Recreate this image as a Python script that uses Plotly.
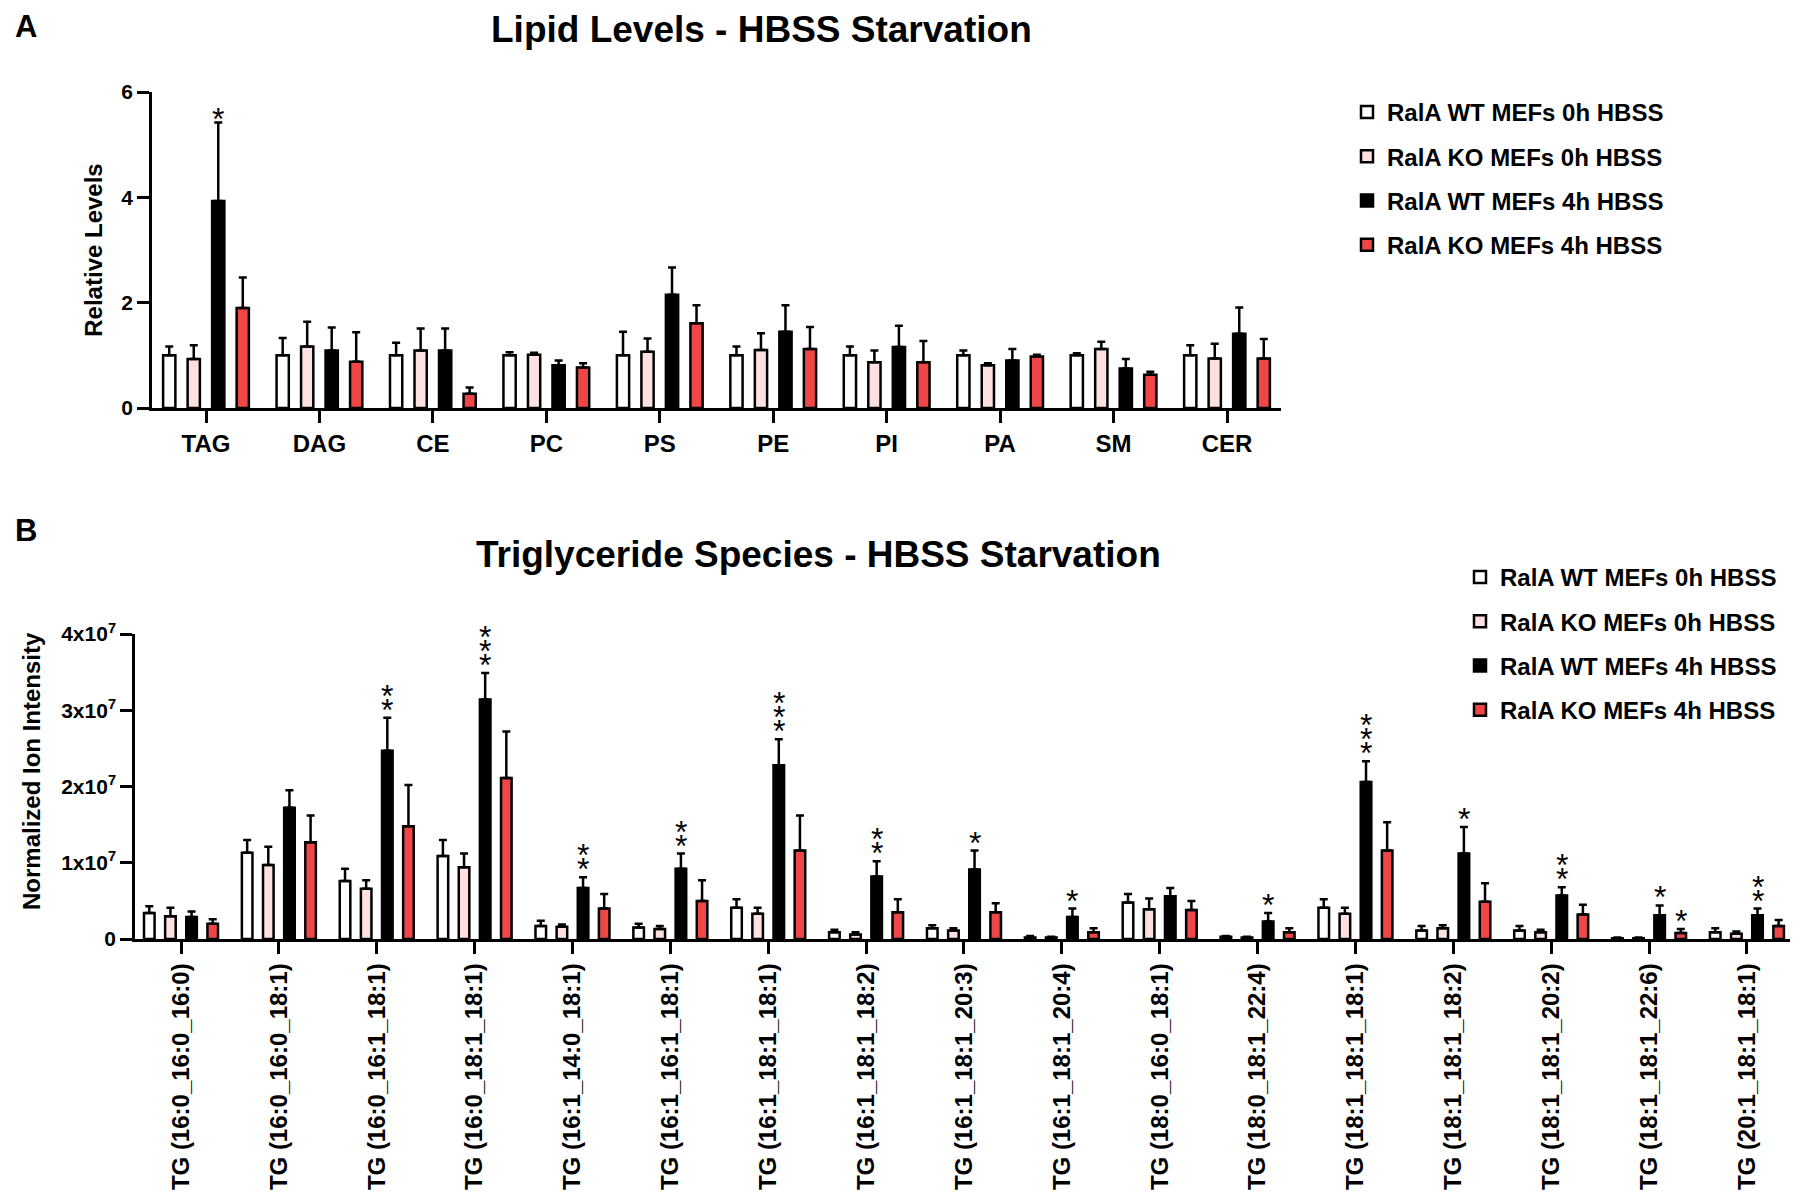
import plotly.graph_objects as go

# ---------------- Panel A data ----------------
lipid_classes = ["TAG", "DAG", "CE", "PC", "PS", "PE", "PI", "PA", "SM", "CER"]
wt0_A = [1.00, 1.00, 1.00, 1.00, 1.00, 1.00, 1.00, 1.00, 1.00, 1.00]
wt0_A_err = [0.17, 0.33, 0.24, 0.06, 0.45, 0.17, 0.17, 0.09, 0.04, 0.19]
ko0_A = [0.93, 1.17, 1.09, 1.01, 1.07, 1.10, 0.87, 0.81, 1.12, 0.94]
ko0_A_err = [0.26, 0.47, 0.42, 0.04, 0.25, 0.32, 0.22, 0.04, 0.14, 0.28]
wt4_A = [3.93, 1.09, 1.09, 0.81, 2.15, 1.45, 1.16, 0.90, 0.75, 1.41]
wt4_A_err = [1.49, 0.44, 0.42, 0.09, 0.52, 0.50, 0.40, 0.22, 0.18, 0.50]
ko4_A = [1.90, 0.88, 0.27, 0.77, 1.61, 1.12, 0.87, 0.98, 0.63, 0.94]
ko4_A_err = [0.58, 0.56, 0.12, 0.08, 0.34, 0.42, 0.40, 0.03, 0.06, 0.37]
stars_A_wt4 = [1, 0, 0, 0, 0, 0, 0, 0, 0, 0]
stars_A_ko4 = [0, 0, 0, 0, 0, 0, 0, 0, 0, 0]

# ---------------- Panel B data (x 1e7) ----------------
tg_species = [
    "TG (16:0_16:0_16:0)", "TG (16:0_16:0_18:1)", "TG (16:0_16:1_18:1)",
    "TG (16:0_18:1_18:1)", "TG (16:1_14:0_18:1)", "TG (16:1_16:1_18:1)",
    "TG (16:1_18:1_18:1)", "TG (16:1_18:1_18:2)", "TG (16:1_18:1_20:3)",
    "TG (16:1_18:1_20:4)", "TG (18:0_16:0_18:1)", "TG (18:0_18:1_22:4)",
    "TG (18:1_18:1_18:1)", "TG (18:1_18:1_18:2)", "TG (18:1_18:1_20:2)",
    "TG (18:1_18:1_22:6)", "TG (20:1_18:1_18:1)",
]
wt0_B = [0.34, 1.13, 0.76, 1.09, 0.17, 0.15, 0.41, 0.09, 0.14, 0.02, 0.48, 0.03, 0.41, 0.11, 0.11, 0.01, 0.09]
wt0_B_err = [0.09, 0.17, 0.16, 0.21, 0.07, 0.05, 0.11, 0.03, 0.04, 0.02, 0.11, 0.01, 0.11, 0.06, 0.06, 0.01, 0.05]
ko0_B = [0.30, 0.97, 0.66, 0.94, 0.16, 0.13, 0.33, 0.06, 0.11, 0.02, 0.39, 0.02, 0.33, 0.14, 0.09, 0.01, 0.07]
ko0_B_err = [0.11, 0.24, 0.11, 0.18, 0.03, 0.04, 0.08, 0.03, 0.03, 0.01, 0.14, 0.01, 0.08, 0.04, 0.03, 0.01, 0.03]
wt4_B = [0.29, 1.72, 2.47, 3.14, 0.67, 0.92, 2.28, 0.82, 0.91, 0.29, 0.56, 0.23, 2.06, 1.12, 0.57, 0.31, 0.31]
wt4_B_err = [0.07, 0.23, 0.43, 0.35, 0.14, 0.20, 0.34, 0.20, 0.25, 0.11, 0.11, 0.11, 0.27, 0.35, 0.11, 0.13, 0.09]
ko4_B = [0.20, 1.27, 1.48, 2.11, 0.40, 0.50, 1.16, 0.35, 0.35, 0.09, 0.38, 0.09, 1.16, 0.49, 0.32, 0.08, 0.17]
ko4_B_err = [0.06, 0.35, 0.54, 0.61, 0.19, 0.27, 0.46, 0.17, 0.12, 0.05, 0.12, 0.05, 0.37, 0.24, 0.13, 0.05, 0.08]
stars_B_wt4 = [0, 0, 2, 3, 2, 2, 3, 2, 1, 1, 0, 1, 3, 1, 2, 1, 2]
stars_B_ko4 = [0, 0, 0, 0, 0, 0, 0, 0, 0, 0, 0, 0, 0, 0, 0, 1, 0]
B_SCALE = 1e7
y_ticks_B = [0, 1e7, 2e7, 3e7, 4e7]
y_ticktext_B = ["0", "1x10<sup>7</sup>", "2x10<sup>7</sup>", "3x10<sup>7</sup>", "4x10<sup>7</sup>"]

series_names = ["RalA WT MEFs 0h HBSS", "RalA KO MEFs 0h HBSS",
                "RalA WT MEFs 4h HBSS", "RalA KO MEFs 4h HBSS"]
series_colors = ["#ffffff", "#fde0e0", "#000000", "#ef4747"]

FONT = "Liberation Sans, Arial, Helvetica, sans-serif"
BARGAP = 0.136
BARGROUPGAP = 0.5
LW = 2.5

fig = go.Figure()

def add_panel(cats, vals, errs, xa, ya, legend, group_prefix, scale=1.0):
    for k, (name, color, v, e) in enumerate(zip(series_names, series_colors, vals, errs)):
        fig.add_trace(go.Bar(
            x=cats, y=[a * scale for a in v], name=name,
            marker=dict(color=color, line=dict(color="black", width=LW)),
            error_y=dict(type="data", symmetric=False,
                         array=[a * scale for a in e], arrayminus=[0] * len(e),
                         color="black", thickness=LW, width=4),
            xaxis=xa, yaxis=ya, legend=legend,
            legendgroup=f"{group_prefix}{k}",
        ))

add_panel(lipid_classes, [wt0_A, ko0_A, wt4_A, ko4_A],
          [wt0_A_err, ko0_A_err, wt4_A_err, ko4_A_err], "x", "y", "legend", "a")
add_panel(tg_species, [wt0_B, ko0_B, wt4_B, ko4_B],
          [wt0_B_err, ko0_B_err, wt4_B_err, ko4_B_err], "x2", "y2", "legend2", "b", B_SCALE)

annotations = []
slot = (1 - BARGAP) / 4
STAR_STEP = 14

def add_stars(counts, vals, errs, k, xref, yref, scale, base_shift):
    for i, (n, v, e) in enumerate(zip(counts, vals, errs)):
        for j in range(n):
            annotations.append(dict(
                x=i + (k - 1.5) * slot, y=(v + e) * scale, xref=xref, yref=yref,
                text="*", showarrow=False, yanchor="middle", xanchor="center",
                yshift=base_shift + j * STAR_STEP,
                font=dict(family=FONT, size=32, color="black"),
            ))

add_stars(stars_A_wt4, wt4_A, wt4_A_err, 2, "x", "y", 1.0, 4)
add_stars(stars_A_ko4, ko4_A, ko4_A_err, 3, "x", "y", 1.0, 4)
add_stars(stars_B_wt4, wt4_B, wt4_B_err, 2, "x2", "y2", B_SCALE, 8)
add_stars(stars_B_ko4, ko4_B, ko4_B_err, 3, "x2", "y2", B_SCALE, 8)

# titles, panel letters, panel B axis title
annotations += [
    dict(text="Lipid Levels - HBSS Starvation", x=761 / 1800, y=1 - 29 / 1197,
         xref="paper", yref="paper", showarrow=False, xanchor="center", yanchor="middle",
         font=dict(family=FONT, size=37, color="black", weight="bold")),
    dict(text="Triglyceride Species - HBSS Starvation", x=818 / 1800, y=1 - 555 / 1197,
         xref="paper", yref="paper", showarrow=False, xanchor="center", yanchor="middle",
         font=dict(family=FONT, size=37, color="black", weight="bold")),
    dict(text="A", x=26 / 1800, y=1 - 26 / 1197, xref="paper", yref="paper",
         showarrow=False, xanchor="center", yanchor="middle",
         font=dict(family=FONT, size=31, color="black", weight="bold")),
    dict(text="B", x=26 / 1800, y=1 - 530 / 1197, xref="paper", yref="paper",
         showarrow=False, xanchor="center", yanchor="middle",
         font=dict(family=FONT, size=31, color="black", weight="bold")),
    dict(text="Normalized Ion Intensity", x=31 / 1800, y=1 - 771 / 1197,
         xref="paper", yref="paper", showarrow=False, textangle=-90,
         xanchor="center", yanchor="middle",
         font=dict(family=FONT, size=24, color="black", weight="bold")),
]

axis_common = dict(showline=True, linecolor="black", linewidth=LW, ticks="outside",
                   ticklen=12, tickwidth=LW, tickcolor="black", showgrid=False,
                   zeroline=False, automargin=False)

fig.update_layout(
    width=1800, height=1197,
    margin=dict(l=0, r=0, t=0, b=0, pad=0, autoexpand=False),
    paper_bgcolor="white", plot_bgcolor="white",
    barmode="group", bargap=BARGAP, bargroupgap=BARGROUPGAP,
    font=dict(family=FONT, color="black"),
    annotations=annotations,
    xaxis=dict(domain=[152 / 1800, 1281 / 1800], anchor="y", type="category",
               range=[-0.476, len(lipid_classes) - 1 + 0.476],
               tickfont=dict(family=FONT, size=24, weight="bold"), **axis_common),
    yaxis=dict(domain=[1 - 408 / 1197, 1 - 92 / 1197], anchor="x", range=[0, 6],
               tickvals=[0, 2, 4, 6],
               tickfont=dict(family=FONT, size=21, weight="bold"),
               title=dict(text="Relative Levels", standoff=12,
                          font=dict(family=FONT, size=24, weight="bold")),
               **axis_common),
    xaxis2=dict(domain=[135 / 1800, 1790 / 1800], anchor="y2", type="category",
                range=[-0.47, len(tg_species) - 1 + 0.44], tickangle=-90,
                tickfont=dict(family=FONT, size=24, weight="bold"), **axis_common),
    yaxis2=dict(domain=[1 - 939 / 1197, 1 - 634 / 1197], anchor="x2", range=[0, 4e7],
                tickvals=y_ticks_B, ticktext=y_ticktext_B,
                tickfont=dict(family=FONT, size=21, weight="bold"),
                **axis_common),
    legend=dict(x=1347 / 1800, y=1 - 90 / 1197, xanchor="left", yanchor="top",
                font=dict(family=FONT, size=24, weight="bold"),
                tracegroupgap=10, bgcolor="rgba(0,0,0,0)"),
    legend2=dict(x=1460 / 1800, y=1 - 555 / 1197, xanchor="left", yanchor="top",
                 font=dict(family=FONT, size=24, weight="bold"),
                 tracegroupgap=10, bgcolor="rgba(0,0,0,0)"),
    showlegend=True,
)

fig.write_html(
    "out.html",
    config={"displayModeBar": False},
    post_script=("document.documentElement.style.margin='0';"
                 "document.body.style.margin='0';"
                 "document.documentElement.style.overflow='hidden';"
                 "document.body.style.overflow='hidden';"),
)
